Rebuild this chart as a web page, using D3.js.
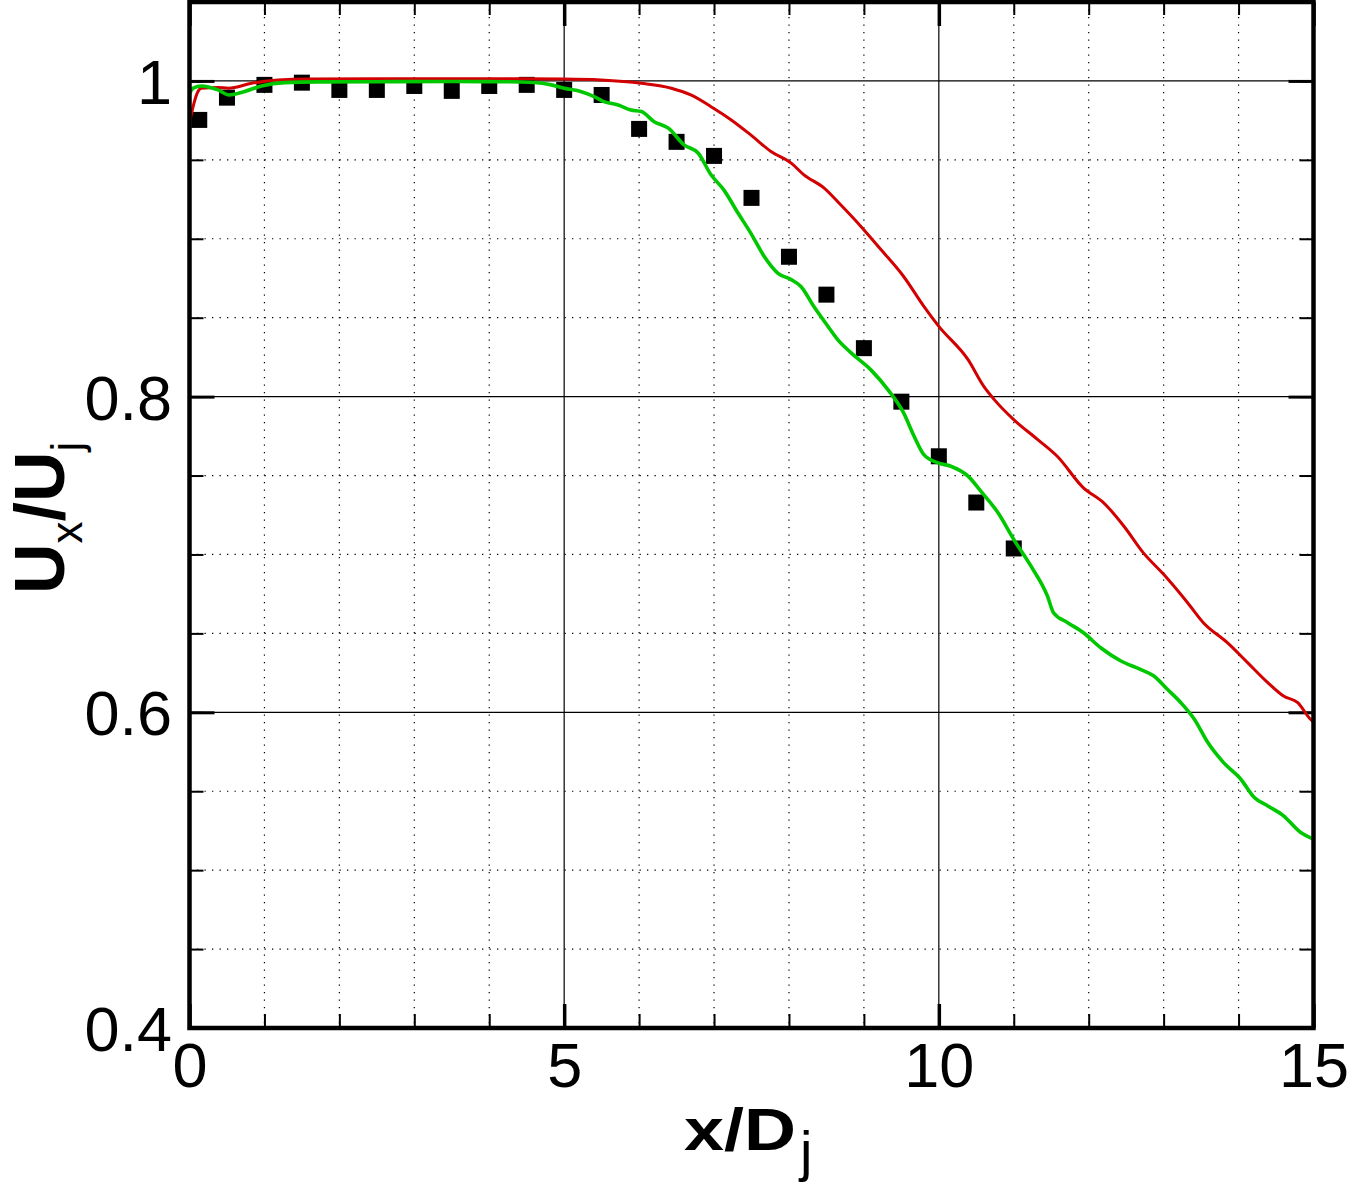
<style>body { margin: 0; } svg { display: block; }</style>
<svg width='1348' height='1185'></svg>
<script src="https://d3js.org/d3.v7.min.js"></script>
<script>

// data
const xTicks = [0, 5, 10, 15];
const yTicks = [0.4, 0.6, 0.8, 1];
const xMinorTicks = d3.range(0, 16, 1);
const yMinorTicks = [0.45, 0.5, 0.55, 0.6, 0.65, 0.7, 0.75, 0.8, 0.85, 0.9, 0.95, 1, 1.05];

// experiment (squares)
const expX = [0.13, 0.5, 1, 1.5, 2, 2.5, 3, 3.5, 4, 4.5, 5, 5.5, 6, 6.5, 7, 7.5, 8, 8.5, 9, 9.5, 10, 10.5, 11];
const expY = [0.9753, 0.9894, 0.9975, 0.9989, 0.9943, 0.9943, 0.9968, 0.9937, 0.9968, 0.9975, 0.9943, 0.9911,
              0.9696, 0.9614, 0.9525, 0.9259, 0.8886, 0.8646, 0.8307, 0.7968, 0.7622, 0.7329, 0.7038];

// red curve
const redX = [0, 0.03, 0.06, 0.1, 0.16, 0.38, 0.52, 0.83, 1.18, 1.6, 2.5, 3.5, 4.5, 5, 5.49, 6.03, 6.43, 6.69,
              6.96, 7.23, 7.49, 7.76, 8.03, 8.2, 8.47, 8.69, 8.96, 9.23, 9.53, 9.8, 10, 10.39, 10.6, 10.74, 11,
              11.32, 11.58, 11.93, 12.2, 12.47, 12.73, 13, 13.32, 13.53, 13.85, 14.12, 14.39, 14.6, 14.79, 14.96, 15];
const redY = [0.974, 0.98, 0.986, 0.992, 0.9954, 0.9958, 0.9954, 0.9985, 1.0006, 1.0012, 1.0013, 1.0013, 1.0013,
              1.0012, 1.0006, 0.9985, 0.9954, 0.9911, 0.9837, 0.9753, 0.9658, 0.9553, 0.9479, 0.9405, 0.9321,
              0.9215, 0.9078, 0.893, 0.8761, 0.8572, 0.8445, 0.8234, 0.8065, 0.7981, 0.7854, 0.7728, 0.7622,
              0.7422, 0.7327, 0.7179, 0.701, 0.6874, 0.6694, 0.6568, 0.6441, 0.6315, 0.6188, 0.6103, 0.6061,
              0.5956, 0.594];

// green curve
const greenX = [0, 0.05, 0.16, 0.38, 0.53, 0.69, 0.96, 1.27, 1.72, 2.5, 3.5, 4.2, 4.6, 4.83, 5, 5.23, 5.4, 5.53,
                5.72, 5.89, 6.03, 6.2, 6.39, 6.6, 6.79, 6.96, 7.13, 7.32, 7.49, 7.67, 7.85, 8.03, 8.16, 8.33,
                8.52, 8.65, 8.83, 9.09, 9.32, 9.53, 9.67, 9.8, 9.99, 10.16, 10.39, 10.56, 10.79, 11, 11.23,
                11.45, 11.53, 11.72, 11.93, 12.16, 12.43, 12.69, 12.87, 13.05, 13.23, 13.41, 13.59, 13.8,
                14.03, 14.21, 14.39, 14.6, 14.83, 15];
const greenY = [0.992, 0.9954, 0.9968, 0.9943, 0.9911, 0.9926, 0.9968, 0.9989, 0.9994, 0.9995, 0.9996, 0.9995,
                0.999, 0.9975, 0.9954, 0.9932, 0.9901, 0.9869, 0.9848, 0.9816, 0.9806, 0.9742, 0.9701, 0.9595,
                0.9542, 0.9405, 0.931, 0.9163, 0.9036, 0.8888, 0.8783, 0.8741, 0.8698, 0.8572, 0.8445, 0.8361,
                0.8277, 0.8171, 0.8044, 0.7897, 0.7749, 0.7633, 0.758, 0.7559, 0.7496, 0.7401, 0.7264, 0.7095,
                0.6926, 0.6736, 0.6631, 0.6568, 0.6504, 0.6409, 0.6325, 0.6272, 0.623, 0.6146, 0.6061, 0.5956,
                0.5808, 0.5681, 0.5576, 0.546, 0.5407, 0.5344, 0.5238, 0.5196];

const margin = {top: 2, left: 189.5};
const width = 1124;
const height = 1026;
const font = "'Liberation Sans', Arial, Helvetica, sans-serif";

const x = d3.scaleLinear().domain([0, 15]).range([0, width]);
const y = d3.scaleLinear().domain([0.4, 1.05]).range([height, 0]);
const line = d3.line().x(d => x(d[0])).y(d => y(d[1])).curve(d3.curveMonotoneX);

const svg = d3.select('svg').style('background', '#fff');
const chart = svg.append('g')
  .attr('transform', 'translate(' + margin.left + ',' + margin.top + ')');

// grid: dotted minor, solid major
chart.selectAll('.vminor').data(xMinorTicks.filter(d => d % 5 != 0)).enter()
  .append('line')
  .attr('x1', d => x(d)).attr('x2', d => x(d))
  .attr('y1', 0).attr('y2', height)
  .attr('stroke', '#000').attr('stroke-width', 1.2).attr('stroke-dasharray', '1.3,6.2');
chart.selectAll('.hminor').data(yMinorTicks.filter(d => Math.round(d * 100) % 20 != 0 && d < 1.04)).enter()
  .append('line')
  .attr('x1', 0).attr('x2', width)
  .attr('y1', d => y(d)).attr('y2', d => y(d))
  .attr('stroke', '#000').attr('stroke-width', 1.2).attr('stroke-dasharray', '1.3,6.2');
chart.selectAll('.vmajor').data([5, 10]).enter()
  .append('line')
  .attr('x1', d => x(d)).attr('x2', d => x(d))
  .attr('y1', 0).attr('y2', height)
  .attr('stroke', '#000').attr('stroke-width', 1.2);
chart.selectAll('.hmajor').data([0.6, 0.8, 1]).enter()
  .append('line')
  .attr('x1', 0).attr('x2', width)
  .attr('y1', d => y(d)).attr('y2', d => y(d))
  .attr('stroke', '#000').attr('stroke-width', 1.2);

// axes, ticks pointing inward on all four sides
function styleAxis(g, w) {
  g.select('.domain').remove();
  g.selectAll('.tick line').attr('stroke-width', w);
  g.selectAll('text').attr('font-family', font).attr('font-size', 63).attr('fill', '#000');
}
chart.append('g').attr('transform', 'translate(0,' + height + ')')
  .call(d3.axisBottom(x).tickValues(xMinorTicks).tickSize(-14).tickFormat(''))
  .call(g => styleAxis(g, 2));
chart.append('g').attr('transform', 'translate(0,' + height + ')')
  .call(d3.axisBottom(x).tickValues(xTicks).tickSize(-24).tickPadding(14).tickFormat(d3.format('d')))
  .call(g => styleAxis(g, 3.5));
chart.append('g')
  .call(d3.axisTop(x).tickValues(xMinorTicks).tickSize(-13).tickFormat(''))
  .call(g => styleAxis(g, 2));
chart.append('g')
  .call(d3.axisTop(x).tickValues(xTicks).tickSize(-24).tickFormat(''))
  .call(g => styleAxis(g, 3.5));
chart.append('g')
  .call(d3.axisLeft(y).tickValues(yMinorTicks).tickSize(-14).tickFormat(''))
  .call(g => styleAxis(g, 2));
chart.append('g')
  .call(d3.axisLeft(y).tickValues(yTicks).tickSize(-25).tickPadding(17.5).tickFormat(d => d == 1 ? '1' : d3.format('.1f')(d)))
  .call(g => styleAxis(g, 3))
  .selectAll('text').attr('dy', '0.36em');
chart.append('g').attr('transform', 'translate(' + width + ',0)')
  .call(d3.axisRight(y).tickValues(yMinorTicks).tickSize(-14).tickFormat(''))
  .call(g => styleAxis(g, 2));
chart.append('g').attr('transform', 'translate(' + width + ',0)')
  .call(d3.axisRight(y).tickValues(yTicks).tickSize(-25).tickFormat(''))
  .call(g => styleAxis(g, 3));

// experimental squares
const s = 16;
chart.selectAll('.exp').data(d3.zip(expX, expY)).enter()
  .append('rect')
  .attr('x', d => x(d[0]) - s / 2)
  .attr('y', d => y(d[1]) - s / 2)
  .attr('width', s).attr('height', s)
  .attr('fill', '#000');

// simulation lines
chart.append('path')
  .datum(d3.zip(redX, redY))
  .attr('fill', 'none')
  .attr('stroke', '#d20000')
  .attr('stroke-width', 3)
  .attr('d', line);
chart.append('path')
  .datum(d3.zip(greenX, greenY))
  .attr('fill', 'none')
  .attr('stroke', '#00c800')
  .attr('stroke-width', 3.6)
  .attr('d', line);

// frame
chart.append('rect')
  .attr('width', width).attr('height', height)
  .attr('fill', 'none').attr('stroke', '#000').attr('stroke-width', 4.5);

// axis titles
svg.append('text')
  .attr('x', 684).attr('y', 1150)
  .attr('font-family', font).attr('font-weight', 'bold').attr('font-size', 60)
  .attr('textLength', 112).attr('lengthAdjust', 'spacingAndGlyphs')
  .text('x/D');
svg.append('text')
  .attr('x', 800).attr('y', 1170)
  .attr('font-family', font).attr('font-size', 56)
  .text('j');

const yt = svg.append('text')
  .attr('transform', 'translate(64,594) rotate(-90)')
  .attr('font-family', font).attr('font-weight', 'bold').attr('font-size', 70);
yt.append('tspan').text('U');
yt.append('tspan').attr('font-weight', 'normal').attr('font-size', 44).attr('dy', 18).text('x');
yt.append('tspan').attr('dy', -18).text('/');
yt.append('tspan').text('U');
yt.append('tspan').attr('font-weight', 'normal').attr('font-size', 44).attr('dy', 18).text('j');
</script>
